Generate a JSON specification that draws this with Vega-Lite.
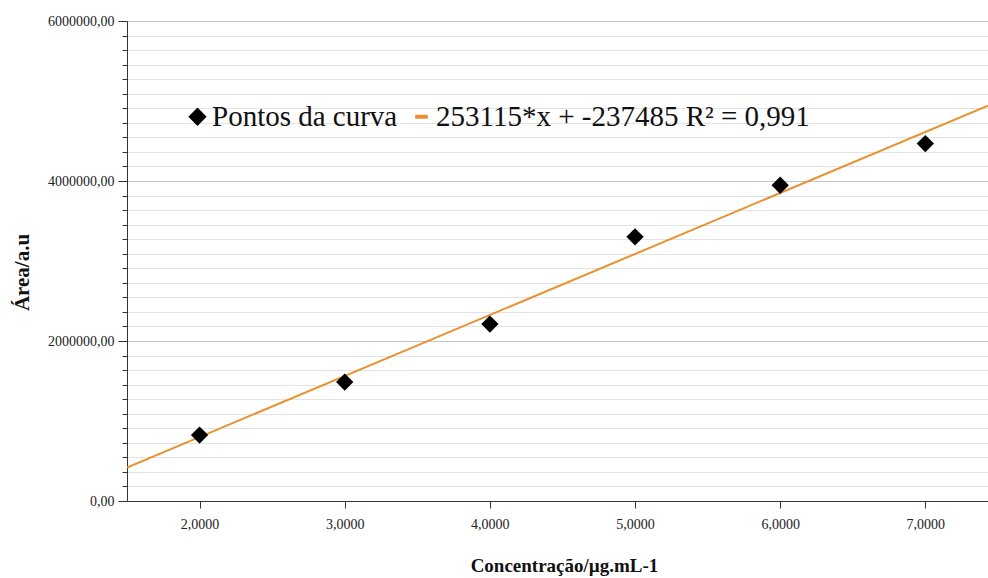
{
  "$schema": "https://vega.github.io/schema/vega-lite/v6.json",
  "width": 861,
  "height": 480,
  "autosize": {"type": "none"},
  "padding": {"left": 127, "top": 21, "right": 0, "bottom": 77},
  "background": "white",
  "config": {
    "view": {"stroke": null},
    "font": "Liberation Serif"
  },
  "data": {
    "values": [
      {"conc": 2, "area": 824500},
      {"conc": 3, "area": 1487000},
      {"conc": 4, "area": 2211000},
      {"conc": 5, "area": 3302000},
      {"conc": 6, "area": 3947000},
      {"conc": 7, "area": 4468000}
    ]
  },
  "encoding": {
    "x": {
      "field": "conc",
      "type": "quantitative",
      "scale": {"domain": [1.5, 7.4318], "nice": false, "zero": false},
      "axis": {
        "title": "Concentração/µg.mL-1",
        "titleFont": "Liberation Serif",
        "titleFontSize": 19,
        "titleFontWeight": "bold",
        "titleColor": "#111111",
        "titleX": 437,
        "titlePadding": 25,
        "values": [2, 3, 4, 5, 6, 7],
        "labelExpr": "replace(format(datum.value, '.4f'), '.', ',')",
        "labelFont": "Liberation Serif",
        "labelFontSize": 14,
        "labelColor": "#222222",
        "labelPadding": 9,
        "tickSize": 7,
        "tickColor": "#333333",
        "domainColor": "#333333",
        "grid": false
      }
    },
    "y": {
      "field": "area",
      "type": "quantitative",
      "scale": {"domain": [0, 6000000], "nice": false},
      "axis": {
        "title": "Área/a.u",
        "titleFont": "Liberation Serif",
        "titleFontSize": 21,
        "titleFontWeight": "bold",
        "titleColor": "#111111",
        "titlePadding": 15,
        "titleY": 251,
        "values": [0, 181818.18, 363636.36, 545454.55, 727272.73, 909090.91, 1090909.09, 1272727.27, 1454545.45, 1636363.64, 1818181.82,
                   2000000, 2181818.18, 2363636.36, 2545454.55, 2727272.73, 2909090.91, 3090909.09, 3272727.27, 3454545.45, 3636363.64, 3818181.82,
                   4000000, 4181818.18, 4363636.36, 4545454.55, 4727272.73, 4909090.91, 5090909.09, 5272727.27, 5454545.45, 5636363.64, 5818181.82,
                   6000000],
        "labelExpr": "datum.value % 2000000 === 0 ? replace(format(datum.value, '.2f'), '.', ',') : ''",
        "labelFont": "Liberation Serif",
        "labelFontSize": 14,
        "labelColor": "#222222",
        "labelPadding": 4,
        "tickColor": "#333333",
        "tickSize": {"condition": {"test": "datum.value % 2000000 === 0", "value": 9}, "value": 5},
        "domainColor": "#333333",
        "grid": true,
        "gridColor": {"condition": {"test": "datum.value % 2000000 === 0", "value": "#c4c4c4"}, "value": "#e3e3e3"},
        "gridWidth": 1
      }
    }
  },
  "layer": [
    {
      "transform": [
        {"regression": "area", "on": "conc", "method": "linear", "extent": [1.5, 7.4318]}
      ],
      "mark": {"type": "line", "strokeWidth": 2, "clip": true},
      "encoding": {
        "color": {
          "datum": "253115*x + -237485 R² = 0,991",
          "scale": {
            "domain": ["Pontos da curva", "253115*x + -237485 R² = 0,991"],
            "range": ["#000000", "#e8912e"]
          },
          "legend": {
            "title": null,
            "orient": "none",
            "direction": "horizontal",
            "legendX": 56,
            "legendY": 81,
            "padding": 0,
            "labelFont": "Liberation Serif",
            "labelFontSize": 29,
            "labelColor": "#111111",
            "labelOffset": 0,
            "columnPadding": 9,
            "symbolSize": 160,
            "labelLimit": 600,
            "encode": {
              "symbols": {
                "update": {
                  "shape": {"signal": "datum.value === 'Pontos da curva' ? 'diamond' : 'stroke'"},
                  "fill": {"signal": "datum.value === 'Pontos da curva' ? '#000000' : 'transparent'"},
                  "stroke": {"signal": "datum.value === 'Pontos da curva' ? 'transparent' : '#e8912e'"},
                  "strokeWidth": {"value": 4},
                  "opacity": {"value": 1}
                }
              }
            }
          }
        }
      }
    },
    {
      "mark": {"type": "point", "shape": "diamond", "filled": true, "size": 300, "opacity": 1},
      "encoding": {
        "color": {"datum": "Pontos da curva"}
      }
    }
  ]
}
